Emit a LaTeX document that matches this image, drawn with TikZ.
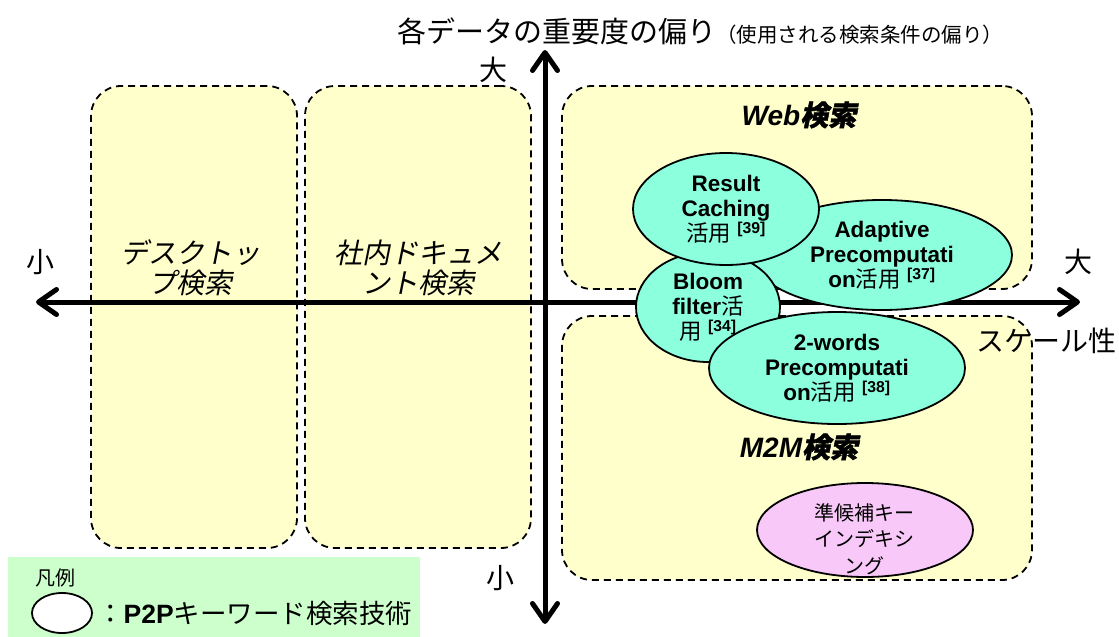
\documentclass[tikz,border=0pt]{standalone}
\usepackage{fontspec}
\setmainfont{Liberation Sans}
\newfontfamily\jp{Noto Sans CJK JP}
\newfontfamily\jpi[FakeSlant=0.2]{Noto Sans CJK JP}
\newfontfamily\jpbi[FakeSlant=0.2,FakeBold=1.5]{Noto Sans CJK JP}
\usetikzlibrary{shapes.geometric,arrows.meta}
\definecolor{zoneyellow}{HTML}{FFFFCC}
\definecolor{techcyan}{HTML}{8CFFDD}
\definecolor{techpink}{HTML}{F8C8F8}
\definecolor{legendgreen}{HTML}{CCFFCC}
\tikzset{
  zonebox/.style={draw=black, fill=zoneyellow, line width=1.8pt, dash pattern=on 7pt off 5pt, rounded corners=30pt},
  axisline/.style={line width=5pt, {Straight Barb[length=18pt,width=25pt,round]}-{Straight Barb[length=18pt,width=25pt,round]}},
  axislabel/.style={font=\jp\fontsize{28}{30}\selectfont, inner sep=0pt},
  zonetext/.style={font=\jpi\fontsize{28}{30}\selectfont, align=center, inner sep=0pt},
  zonetitle/.style={font=\bfseries\itshape\fontsize{28}{30}\selectfont, inner sep=0pt},
  tech/.style={ellipse, draw=black, line width=1.8pt, fill=techcyan, inner sep=0pt, align=center, font=\bfseries\fontsize{22.5}{25}\selectfont},
  techp/.style={ellipse, draw=black, line width=1.8pt, fill=techpink, inner sep=0pt},
}
\newcommand{\refn}[1]{\textsuperscript{\bfseries[#1]}}
\newcommand{\J}[1]{{\jp\mdseries #1}}
\begin{document}
\begin{tikzpicture}[x=1pt,y=-1pt]
\useasboundingbox (0,0) rectangle (1119,637);
% zones
\node[zonebox, minimum width=206pt, minimum height=462pt] (zdesk) at (194,317) {};
\node[zonebox, minimum width=226pt, minimum height=462pt] (zdoc) at (418,317) {};
\node[zonebox, minimum width=470pt, minimum height=203pt] (zweb) at (797,187.5) {};
\node[zonebox, minimum width=470pt, minimum height=264pt] (zm2m) at (797,448) {};
\node[zonetext] (tdesk) at (190,268) {デスクトッ\\プ検索};
\node[zonetext] (tdoc) at (418,268) {社内ドキュメ\\ント検索};
\node[zonetitle] (tweb) at (799,115) {Web{\jpbi 検索}};
\node[zonetitle] (tm2m) at (799,447) {M2M{\jpbi 検索}};
% axes
\coordinate (xl) at (36,302);
\coordinate (xr) at (1080,302);
\coordinate (yt) at (545,50);
\coordinate (yb) at (545,624);
\draw[axisline] (xl) -- (xr);
\draw[axisline] (yb) -- (yt);
\node[axislabel] (ytop) at (493,70) {大};
\node[axislabel] (ybot) at (500,578) {小};
\node[axislabel] (xleft) at (41,262) {小};
\node[axislabel] (xright) at (1078,262) {大};
\node[axislabel, anchor=west] (xname) at (976,341) {スケール性};
\node[inner sep=0pt, anchor=west] (yname) at (397,31) {{\jp\fontsize{29}{30}\selectfont 各データの重要度の偏り}{\jp\fontsize{20.5}{30}\selectfont （使用される検索条件の偏り）}};
% techniques
\node[tech, minimum width=260pt, minimum height=110pt] (adapt) at (882,255) {Adaptive\\Precomputati\\on\J{活用} \refn{37}};
\node[tech, minimum width=144pt, minimum height=110pt] (bloom) at (708,307) {Bloom\\filter\J{活}\\\J{用} \refn{34}};
\node[tech, minimum width=256pt, minimum height=112pt] (twow) at (837,368) {2-words\\Precomputati\\on\J{活用} \refn{38}};
\node[tech, minimum width=186pt, minimum height=112pt] (rc) at (726,209) {Result\\Caching\\\J{活用} \refn{39}};
\node[techp, minimum width=216pt, minimum height=94pt] (cand) at (865,530) {};
\node[inner sep=0pt, align=center, font=\jp\fontsize{20}{26.5}\selectfont] (tcand) at (864,539) {準候補キー\\インデキシ\\ング};
% legend
\node[fill=legendgreen, minimum width=412pt, minimum height=80pt, inner sep=0pt] (legend) at (214,597) {};
\node[inner sep=0pt, font=\jp\fontsize{20}{22}\selectfont] (lgtitle) at (55,578) {凡例};
\node[ellipse, draw=black, line width=1.8pt, fill=white, minimum width=60pt, minimum height=40pt] (lgell) at (62,613) {};
\node[inner sep=0pt, anchor=west, font=\fontsize{26.5}{28}\selectfont] (lgtext) at (97,613) {{\jp ：}\textbf{P2P}{\jp キーワード検索技術}};
\end{tikzpicture}
\end{document}
